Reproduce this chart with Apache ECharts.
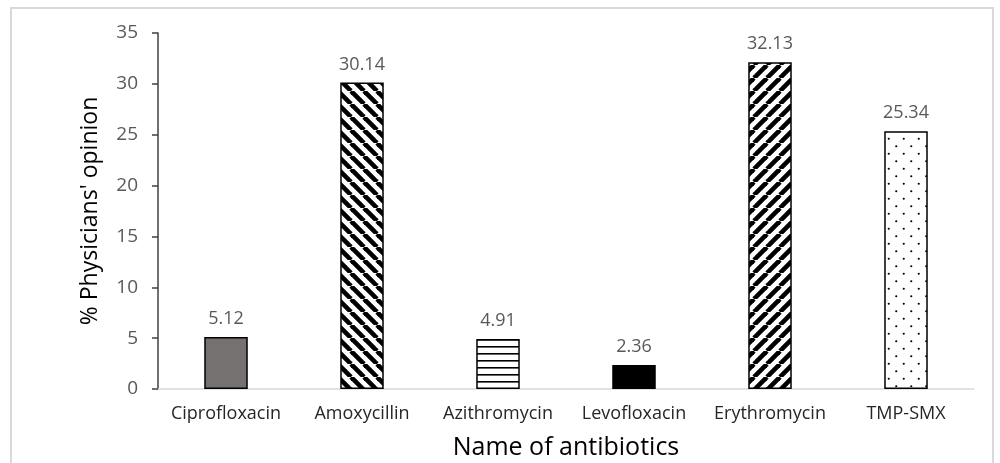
<!DOCTYPE html>
<html><head><meta charset="utf-8">
<script src="https://cdn.jsdelivr.net/npm/echarts@6/dist/echarts.min.js"></script>
<style>
html,body{margin:0;padding:0;background:#fff;}
#frame{position:absolute;left:10px;top:7px;width:984px;height:460px;border:2px solid #d9d9d9;box-sizing:border-box;}
#chart{position:absolute;left:0;top:0;width:1000px;height:463px;}
</style></head>
<body>
<div id="frame"></div>
<div id="chart"></div>
<script>
const categories = ['Ciprofloxacin','Amoxycillin','Azithromycin','Levofloxacin','Erythromycin','TMP-SMX'];
const values = [5.12, 30.14, 4.91, 2.36, 32.13, 25.34];
const yTicks = {min: 0, max: 35, interval: 5};

function tile(w, h, draw) {
  const c = document.createElement('canvas');
  c.width = w; c.height = h;
  const ctx = c.getContext('2d');
  ctx.fillStyle = '#fff'; ctx.fillRect(0, 0, w, h);
  draw(ctx, w, h);
  return {image: c, repeat: 'repeat'};
}
function diag(dir) {
  return tile(13, 13, (ctx, s) => {
    ctx.strokeStyle = '#000'; ctx.lineWidth = 4.6;
    for (let k = -1; k <= 1; k++) {
      ctx.beginPath();
      if (dir > 0) { ctx.moveTo(k * s, s); ctx.lineTo(k * s + s, 0); }
      else { ctx.moveTo(k * s, 0); ctx.lineTo(k * s + s, s); }
      ctx.stroke();
    }
  });
}
const horiz = tile(8, 7, (ctx, w) => { ctx.fillStyle = '#000'; ctx.fillRect(0, 3, w, 1.6); });
const dots = tile(15, 15, (ctx) => {
  ctx.fillStyle = '#000';
  [[3.75, 3.75], [11.25, 11.25]].forEach(p => { ctx.beginPath(); ctx.arc(p[0], p[1], 1.1, 0, Math.PI * 2); ctx.fill(); });
});
const fills = ['#767171', diag(-1), horiz, '#000000', diag(1), dots];

const chart = echarts.init(document.getElementById('chart'), null, {renderer: 'canvas'});
const font = '"Open Sans", sans-serif';
chart.setOption({
  animation: false,
  grid: {left: 158, right: 26, top: 33, bottom: 74, containLabel: false, outerBoundsMode: 'none'},
  xAxis: {
    type: 'category', data: categories,
    name: 'Name of antibiotics', nameLocation: 'middle', nameGap: 46,
    nameTextStyle: {fontFamily: font, fontSize: 25, color: '#000'},
    axisLine: {lineStyle: {color: '#d9d9d9', width: 1.5}},
    axisTick: {show: false},
    axisLabel: {interval: 0, hideOverlap: false, fontFamily: font, fontSize: 18, color: '#262626', margin: 16}
  },
  yAxis: {
    type: 'value', min: yTicks.min, max: yTicks.max, interval: yTicks.interval,
    name: "% Physicians' opinion", nameLocation: 'middle', nameGap: 56,
    nameTextStyle: {fontFamily: font, fontSize: 23, color: '#000'},
    axisLine: {show: true, lineStyle: {color: '#404040', width: 1.5}},
    axisTick: {show: true, length: 6, lineStyle: {color: '#404040', width: 1.5}},
    splitLine: {show: false},
    axisLabel: {fontFamily: font, fontSize: 19, color: '#595959', margin: 20}
  },
  series: [{
    type: 'bar', barWidth: '32%',
    data: values.map((v, i) => ({value: v, itemStyle: {color: fills[i]}})),
    itemStyle: {borderColor: '#000', borderWidth: 1.5},
    label: {show: true, position: 'top', distance: 9, fontFamily: font, fontSize: 18, color: '#595959',
      formatter: p => p.value.toFixed(2)}
  }]
});
</script>
</body></html>
